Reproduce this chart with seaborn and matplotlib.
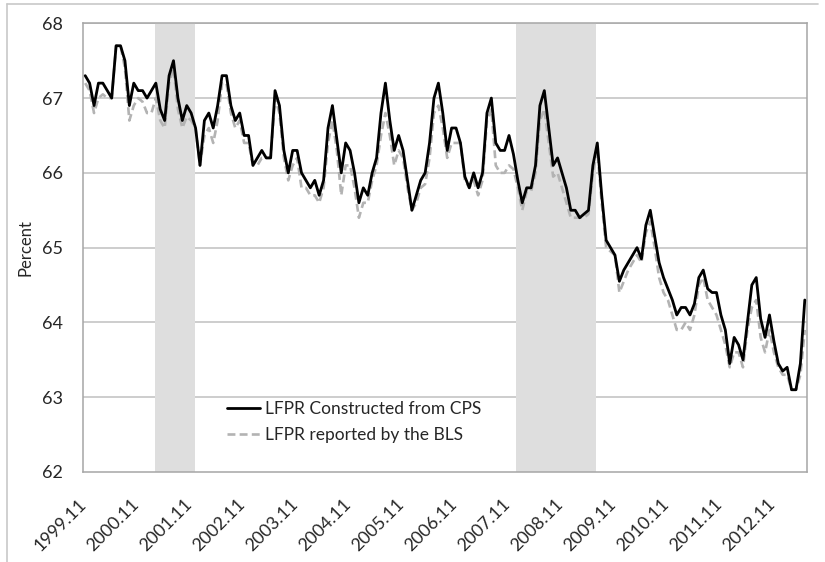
import numpy as np
import pandas as pd
import matplotlib
matplotlib.use('Agg')
import matplotlib.pyplot as plt
from matplotlib.lines import Line2D
from matplotlib.transforms import ScaledTranslation
import seaborn as sns

# Monthly LFPR, Nov 1999 - Jun 2013
lfpr_cps = [
    67.3, 67.2, 66.9, 67.2, 67.2, 67.1, 67.0, 67.7, 67.7, 67.5, 66.9, 67.2,
    67.1, 67.1, 67.0, 67.1, 67.2, 66.85, 66.7, 67.3, 67.5, 67.0, 66.7, 66.9,
    66.8, 66.6, 66.1, 66.7, 66.8, 66.6, 66.9, 67.3, 67.3, 66.9, 66.7, 66.8,
    66.5, 66.5, 66.1, 66.2, 66.3, 66.2, 66.2, 67.1, 66.9, 66.3, 66.0, 66.3,
    66.3, 66.0, 65.9, 65.8, 65.9, 65.7, 65.9, 66.6, 66.9, 66.45, 66.0, 66.4,
    66.3, 66.0, 65.6, 65.8, 65.7, 66.0, 66.2, 66.8, 67.2, 66.7, 66.3, 66.5,
    66.3, 65.9, 65.5, 65.7, 65.9, 66.0, 66.4, 67.0, 67.2, 66.8, 66.3, 66.6,
    66.6, 66.4, 65.95, 65.8, 66.0, 65.8, 66.0, 66.8, 67.0, 66.4, 66.3, 66.3,
    66.5, 66.25, 65.9, 65.6, 65.8, 65.8, 66.1, 66.9, 67.1, 66.6, 66.1, 66.2,
    66.0, 65.8, 65.5, 65.5, 65.4, 65.45, 65.5, 66.1, 66.4, 65.7, 65.1, 65.0,
    64.9, 64.55, 64.7, 64.8, 64.9, 65.0, 64.85, 65.3, 65.5, 65.15, 64.8, 64.6,
    64.45, 64.3, 64.1, 64.2, 64.2, 64.1, 64.25, 64.6, 64.7, 64.45, 64.4, 64.4,
    64.1, 63.9, 63.45, 63.8, 63.7, 63.5, 64.0, 64.5, 64.6, 64.05, 63.8, 64.1,
    63.75, 63.45, 63.35, 63.4, 63.1, 63.1, 63.45, 64.3,
]
lfpr_bls = [
    67.2, 67.1, 66.8, 67.0, 67.05, 67.0, 67.0, 67.7, 67.7, 67.4, 66.7, 66.9,
    67.0, 66.95, 66.8, 66.8, 67.0, 66.7, 66.6, 67.2, 67.4, 66.85, 66.6, 66.75,
    66.7, 66.6, 66.1, 66.5, 66.6, 66.4, 66.7, 67.2, 67.2, 66.8, 66.6, 66.7,
    66.4, 66.4, 66.1, 66.1, 66.2, 66.2, 66.2, 67.0, 66.8, 66.2, 65.9, 66.1,
    66.2, 65.8, 65.8, 65.7, 65.7, 65.6, 65.8, 66.4, 66.7, 66.3, 65.7, 66.1,
    66.1, 65.8, 65.4, 65.6, 65.6, 65.9, 66.1, 66.5, 66.8, 66.5, 66.1, 66.3,
    66.2, 65.8, 65.5, 65.6, 65.8, 65.85, 66.2, 66.8, 66.9, 66.6, 66.2, 66.4,
    66.4, 66.4, 65.9, 65.8, 65.9, 65.7, 65.9, 66.7, 66.85, 66.1, 66.0, 66.0,
    66.1, 66.05, 65.8, 65.5, 65.75, 65.75, 66.0, 66.7, 66.85, 66.4, 65.95, 66.0,
    65.8, 65.6, 65.4, 65.4, 65.4, 65.4, 65.45, 66.0, 66.3, 65.6, 65.0, 64.95,
    64.9, 64.4, 64.55, 64.7, 64.8, 64.9, 64.8, 65.2, 65.35, 65.0, 64.6, 64.4,
    64.3, 64.1, 63.9, 63.9, 64.0, 63.9, 64.1, 64.5, 64.6, 64.3, 64.2, 64.1,
    63.9, 63.7, 63.4, 63.6, 63.6, 63.4, 63.9, 64.2, 64.3, 63.8, 63.6, 63.9,
    63.6, 63.4, 63.3, 63.3, 63.1, 63.1, 63.3, 63.9,
]
months = pd.period_range('1999-11', periods=len(lfpr_cps), freq='M')
tick_labels = [f"{y}.11" for y in range(1999, 2013)]
# recession bands, in month-index units
recessions = [(15.8, 24.9), (97.6, 115.8)]

df = pd.DataFrame({
    'pos': np.arange(len(months)),
    'LFPR Constructed from CPS': lfpr_cps,
    'LFPR reported by the BLS': lfpr_bls,
})

sns.set_theme(style="white")
plt.rcParams['font.family'] = ['Lato', 'DejaVu Sans']

fig = plt.figure(figsize=(8.25, 5.62), dpi=100)
ax = fig.add_axes([83 / 825, 1 - 472 / 562, 724 / 825, 448.7 / 562])

grid_c = '#c0c0c0'
for v in range(63, 69):
    ax.axhline(v, color=grid_c, lw=1.1, zorder=1)
for a, b in recessions:
    ax.axvspan(a, b, color='#dedede', lw=0, zorder=2)

sns.lineplot(data=df, x='pos', y='LFPR reported by the BLS', ax=ax,
             color='#b3b3b3', lw=1.9, dashes=(3, 1.6), zorder=3,
             label='LFPR reported by the BLS')
sns.lineplot(data=df, x='pos', y='LFPR Constructed from CPS', ax=ax,
             color='black', lw=2.0, zorder=4,
             label='LFPR Constructed from CPS')

ax.set_xlim(-0.5, len(months) - 0.5)
ax.set_ylim(62, 68)
ax.set_yticks(range(62, 69))
ax.set_yticklabels([str(v) for v in range(62, 69)], fontsize=13)
ax.set_xticks(np.arange(len(tick_labels)) * 12 - 0.5)
ax.set_xticklabels(tick_labels, rotation=45, ha='right', rotation_mode='anchor',
                   fontsize=12.8)
ax.set_xlabel('')
ax.set_ylabel('Percent', fontsize=12, labelpad=6)

for s in ax.spines.values():
    s.set_color('#a6a6a6')
    s.set_linewidth(1.1)
ax.tick_params(axis='both', which='both', direction='out', length=3.6,
               color='#a6a6a6', width=1.1, pad=3)
ax.tick_params(axis='y', pad=11)

# push the rotated labels down like the original
shift = ScaledTranslation(-5 / 100, -15 / 100, fig.dpi_scale_trans)
for lab in ax.get_xticklabels():
    lab.set_transform(lab.get_transform() + shift)

handles, labels = ax.get_legend_handles_labels()
ax.legend(handles[::-1], labels[::-1], loc='lower left',
          bbox_to_anchor=(0.178, 0.03), frameon=False, fontsize=12.5,
          handlelength=1.9, handletextpad=0.25, labelspacing=0.55)

# partial outer frame
fig.add_artist(Line2D([7 / 825, 818 / 825], [1 - 4 / 562, 1 - 4 / 562],
                      color='#c8c8c8', lw=1.2))
fig.add_artist(Line2D([7 / 825, 7 / 825], [0, 1 - 4 / 562],
                      color='#c8c8c8', lw=1.2))

fig.savefig('out.png', dpi=100)
plt.close(fig)
